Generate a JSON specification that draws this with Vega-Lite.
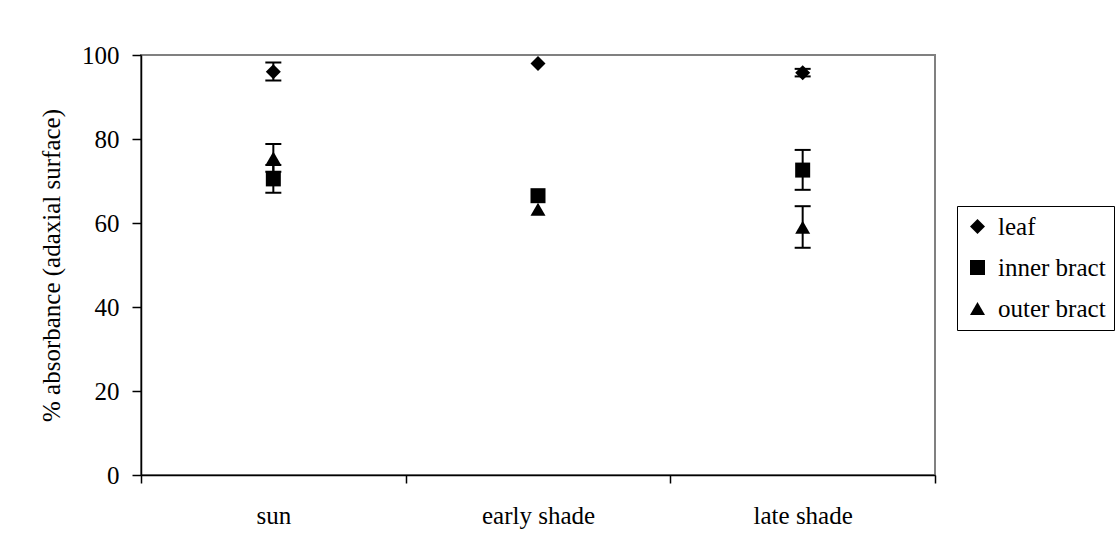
{
  "$schema": "https://vega.github.io/schema/vega-lite/v6.json",
  "autosize": {"type": "none"},
  "padding": {"left": 141, "top": 55, "right": 182, "bottom": 78},
  "width": 794,
  "height": 420,
  "background": "white",
  "config": {
    "view": {"stroke": "#808080", "strokeWidth": 2},
    "font": "Liberation Serif"
  },
  "data": {
    "values": [
      {"condition": "sun", "part": "leaf", "value": 96.0, "lo": 93.9, "hi": 98.2},
      {"condition": "sun", "part": "inner bract", "value": 70.5, "lo": 67.2, "hi": 73.8},
      {"condition": "sun", "part": "outer bract", "value": 75.5, "lo": 72.2, "hi": 78.8},
      {"condition": "early shade", "part": "leaf", "value": 98.0, "lo": null, "hi": null},
      {"condition": "early shade", "part": "inner bract", "value": 66.5, "lo": null, "hi": null},
      {"condition": "early shade", "part": "outer bract", "value": 63.3, "lo": null, "hi": null},
      {"condition": "late shade", "part": "leaf", "value": 95.8, "lo": 94.9, "hi": 96.7},
      {"condition": "late shade", "part": "inner bract", "value": 72.6, "lo": 67.9, "hi": 77.4},
      {"condition": "late shade", "part": "outer bract", "value": 59.0, "lo": 54.1, "hi": 64.0}
    ]
  },
  "encoding": {
    "x": {
      "field": "condition",
      "type": "nominal",
      "sort": ["sun", "early shade", "late shade"],
      "scale": {"paddingInner": 0, "paddingOuter": 0},
      "axis": {
        "title": null,
        "tickBand": "extent",
        "labelAngle": 0,
        "tickSize": 8,
        "labelPadding": 20,
        "labelFontSize": 25,
        "labelColor": "black",
        "domainColor": "black",
        "domainWidth": 1.5,
        "tickColor": "black",
        "tickWidth": 1.5
      }
    }
  },
  "layer": [
    {
      "mark": {"type": "point", "filled": true, "color": "black", "opacity": 1, "size": 225},
      "encoding": {
        "y": {
          "field": "value",
          "type": "quantitative",
          "scale": {"domain": [0, 100], "nice": false, "zero": true},
          "axis": {
            "title": "% absorbance (adaxial surface)",
            "titleFontSize": 25,
            "titleFontWeight": "normal",
            "titleColor": "black",
            "titlePadding": 17,
            "values": [0, 20, 40, 60, 80, 100],
            "grid": false,
            "tickSize": 9,
            "labelPadding": 13,
            "labelFontSize": 25,
            "labelColor": "black",
            "domainColor": "black",
            "domainWidth": 1.5,
            "tickColor": "black",
            "tickWidth": 1.5
          }
        },
        "shape": {
          "field": "part",
          "type": "nominal",
          "scale": {"domain": ["leaf", "inner bract", "outer bract"], "range": ["diamond", "square", "triangle-up"]},
          "legend": {
            "orient": "none",
            "legendX": 816,
            "legendY": 151,
            "title": null,
            "strokeColor": "black",
            "fillColor": "white",
            "padding": 8,
            "labelFontSize": 25,
            "labelColor": "black",
            "symbolSize": 225,
            "symbolFillColor": "black",
            "symbolStrokeColor": "black",
            "rowPadding": 15,
            "labelOffset": 8
          }
        }
      }
    },
    {
      "mark": {"type": "rule", "color": "black", "strokeWidth": 2},
      "encoding": {
        "y": {"field": "lo", "type": "quantitative", "title": "% absorbance (adaxial surface)"},
        "y2": {"field": "hi"}
      }
    },
    {
      "mark": {"type": "tick", "color": "black", "thickness": 2, "size": 16, "opacity": 1},
      "encoding": {
        "y": {"field": "lo", "type": "quantitative", "title": "% absorbance (adaxial surface)"}
      }
    },
    {
      "mark": {"type": "tick", "color": "black", "thickness": 2, "size": 16, "opacity": 1},
      "encoding": {
        "y": {"field": "hi", "type": "quantitative", "title": "% absorbance (adaxial surface)"}
      }
    }
  ]
}
